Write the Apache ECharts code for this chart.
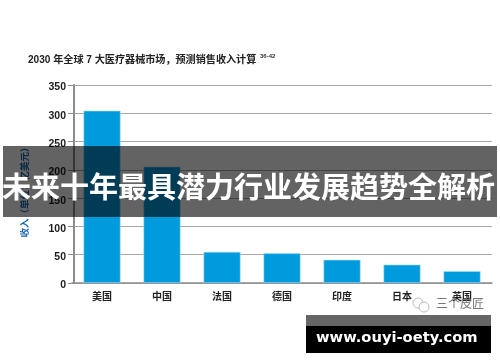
<!DOCTYPE html>
<html><head><meta charset="utf-8">
<style>html,body{margin:0;padding:0;background:#fff}#c{width:500px;height:362px}</style>
<script src="https://cdn.jsdelivr.net/npm/echarts@6/dist/echarts.min.js"></script></head>
<body><div id="c"></div>
<script>
const categories = ['美国','中国','法国','德国','印度','日本','英国'];
const revenue = [304.5, 205.5, 55, 52.5, 41, 32.5, 21];
const chartTitle = '2030 年全球 7 大医疗器械市场，预测销售收入计算';
const titleRef = '36-42';
const yName = '收入（单位：亿美元）';
const bannerText = '未来十年最具潜力行业发展趋势全解析';
const siteText = 'www.ouyi-oety.com';
const markText = '三个皮匠';
const cjk = '"Liberation Sans","Noto Sans CJK SC",sans-serif';
const chart = echarts.init(document.getElementById('c'), null, {renderer:'canvas'});
chart.setOption({
  animation:false,
  backgroundColor:'#fff',
  grid:{left:72,width:420,top:85,height:198},
  title:{text:chartTitle,left:23,top:50,
    textStyle:{fontFamily:cjk,fontSize:10.1,fontWeight:'bold',color:'#222'}},
  xAxis:{type:'category',data:categories,
    axisLine:{lineStyle:{color:'#8c8c8c',width:1.5}},axisTick:{show:false},
    axisLabel:{fontFamily:cjk,fontSize:10,fontWeight:'bold',color:'#222',margin:9}},
  yAxis:{type:'value',min:0,max:350,interval:50,offset:-2,
    name:yName,nameLocation:'middle',nameGap:44,nameRotate:90,
    nameTextStyle:{fontFamily:cjk,fontSize:9.5,fontWeight:'bold',color:'#1a66b4',padding:[0,12,0,0]},
    axisLine:{show:true,lineStyle:{color:'#8c8c8c',width:2}},
    axisTick:{show:true,length:6,lineStyle:{color:'#8c8c8c',width:1}},
    axisLabel:{margin:8,formatter:'{a|{value}}',
      rich:{a:{fontFamily:'"Liberation Sans",sans-serif',fontSize:10.5,fontWeight:'bold',color:'#1c1c1c',padding:[5,0,0,0]}}},
    splitLine:{show:true,lineStyle:{color:'#a8a8a8',width:1.2}}},
  series:[{type:'bar',data:revenue,barWidth:37,
    itemStyle:{color:'#009bdc',borderColor:'#a9dcf3',borderWidth:0.6}}],
  graphic:[
    {type:'text',left:260,top:53,style:{text:titleRef,fontFamily:cjk,fontSize:6,fontWeight:'bold',fill:'#333'}},
    {type:'circle',z:40,shape:{cx:418,cy:303,r:5},style:{fill:'#fff',stroke:'#bbb',lineWidth:1}},
    {type:'circle',z:40,shape:{cx:424,cy:307,r:5},style:{fill:'#fff',stroke:'#bbb',lineWidth:1}},
    {type:'rect',z:50,shape:{x:3,y:146,width:494,height:71},style:{fill:'rgba(0,0,0,0.61)'}},
    {type:'text',z:51,left:2,top:172,style:{text:bannerText,fontFamily:'"Noto Sans CJK SC",sans-serif',fontSize:29,fontWeight:'bold',fill:'#fff'}},
    {type:'text',z:40,left:436,top:297,style:{text:markText,fontFamily:'"Noto Sans CJK SC",sans-serif',fontSize:12,fill:'#777'}},
    {type:'rect',z:50,shape:{x:306,y:315,width:185,height:11},style:{fill:'#666'}},
    {type:'rect',z:50,shape:{x:306,y:326,width:185,height:27},style:{fill:'#000'}},
    {type:'text',z:51,left:316,top:331,style:{text:siteText,fontFamily:'"DejaVu Sans",sans-serif',fontSize:14.7,fontWeight:'bold',fill:'#fff'}}
  ]
});
</script></body></html>
